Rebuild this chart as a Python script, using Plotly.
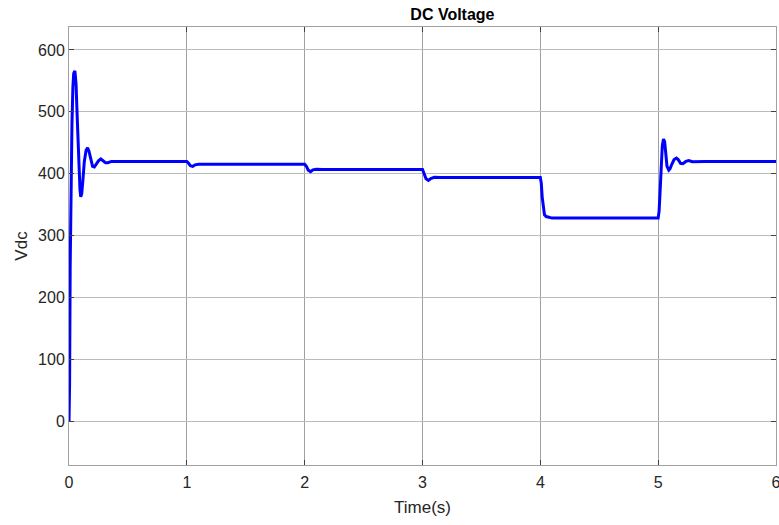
import plotly.graph_objects as go

# Time (s) and DC voltage (V)
time_s = [0.0, 0.005, 0.01, 0.018, 0.025, 0.033, 0.04, 0.05, 0.06, 0.068, 0.075, 0.085, 0.093, 0.1,
          0.108, 0.118, 0.13, 0.145, 0.158, 0.17, 0.185, 0.2, 0.215, 0.23, 0.25, 0.27, 0.29, 0.31,
          0.33, 0.36, 0.4, 1.0, 1.015, 1.03, 1.05, 1.07, 1.1, 2.0, 2.015, 2.03, 2.05, 2.07, 2.1,
          2.15, 3.0, 3.015, 3.03, 3.05, 3.07, 3.1, 3.15, 4.0, 4.008, 4.016, 4.025, 4.035, 4.05,
          4.07, 4.1, 5.0, 5.008, 5.016, 5.025, 5.035, 5.045, 5.055, 5.065, 5.075, 5.09, 5.1,
          5.115, 5.135, 5.155, 5.17, 5.19, 5.21, 5.235, 5.26, 5.29, 5.33, 5.4, 6.0]
vdc = [0, 60, 250, 400, 480, 540, 562, 566, 545, 500, 455, 405, 375, 363,
       368, 390, 420, 438, 442, 436, 422, 412, 411, 415, 421, 424, 421, 418,
       418, 420, 420, 420, 417, 413, 412, 414.5, 415.5, 415.5, 412, 406, 403.5, 406.5, 407.5,
       407, 407, 400, 392, 389.5, 392.5, 394.5, 394, 394, 385, 362, 343, 334, 331,
       329.5, 328.5, 328.5, 340, 370, 410, 445, 456, 452, 432, 412, 406, 408,
       415, 423, 425.5, 423, 417, 416.5, 420, 421.5, 419.5, 420, 420, 420]

x_ticks = [0, 1, 2, 3, 4, 5, 6]
y_ticks = [0, 100, 200, 300, 400, 500, 600]

font_family = "Liberation Sans, Arial, sans-serif"

fig = go.Figure()
fig.add_trace(go.Scatter(x=time_s, y=vdc, mode="lines",
                         line=dict(color="#0000ff", width=3), showlegend=False))

fig.update_layout(
    width=779, height=525,
    margin=dict(l=69, r=3, t=27, b=60, autoexpand=False),
    paper_bgcolor="white", plot_bgcolor="white",
    title=dict(text="<b>DC Voltage</b>", x=(69 + 776) / 2 / 779, xref="paper",
               xanchor="center", y=1 - 14 / 525, yref="container", yanchor="middle",
               font=dict(family=font_family, size=16, color="black")),
    font=dict(family=font_family, size=16, color="#262626"),
)
fig.update_xaxes(
    range=[0, 6], tickvals=x_ticks, ticktext=[str(v) for v in x_ticks],
    showgrid=True, gridcolor="#a0a0a0", gridwidth=1, zeroline=False,
    showline=True, linecolor="#a0a0a0", linewidth=1, mirror="ticks",
    ticks="inside", ticklen=5, tickcolor="#404040",
    ticklabeloverflow="allow", ticklabelstandoff=3, automargin=False,
    title=dict(text="Time(s)", font=dict(size=17, color="#262626"), standoff=10),
    tickfont=dict(size=16, color="#262626"),
)
fig.update_yaxes(
    range=[-70, 637], tickvals=y_ticks, ticktext=[str(v) for v in y_ticks],
    showgrid=True, gridcolor="#bbbbbb", gridwidth=1, zeroline=False,
    showline=True, linecolor="#a0a0a0", linewidth=1, mirror="ticks",
    ticks="inside", ticklen=5, tickcolor="#404040", automargin=False,
    title=dict(text="Vdc", font=dict(size=17, color="#262626"), standoff=6),
    tickfont=dict(size=16, color="#262626"),
)

fig.write_html("out.html")
